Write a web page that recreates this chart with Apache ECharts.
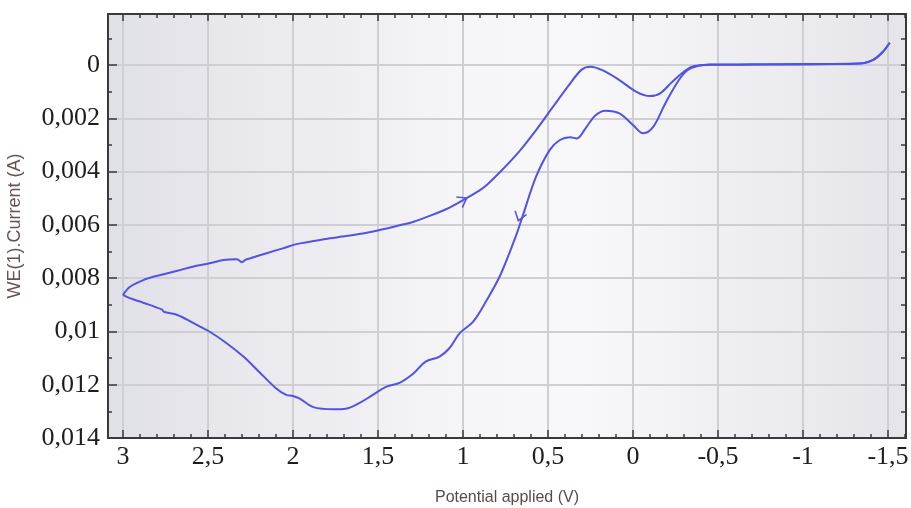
<!DOCTYPE html>
<html>
<head>
<meta charset="utf-8">
<script src="https://cdn.jsdelivr.net/npm/echarts@6/dist/echarts.min.js"></script>
<style>
html,body{margin:0;padding:0;background:#fff;}
#chart{width:911px;height:508px;}
</style>
</head>
<body>
<div id="chart"></div>
<script>
// Scan 1 (potential rising, lower branch), from -1.5 V to 3 V
const scan1Potential = [-1.51,-1.47,-1.41,-1.33,-1.0,-0.7,-0.45,-0.38,-0.32,-0.27,-0.19,-0.12,-0.06,0.0,0.08,0.16,0.22,0.28,0.33,0.37,0.43,0.49,0.57,0.65,0.69,0.78,0.86,0.94,1.02,1.08,1.14,1.22,1.29,1.37,1.45,1.53,1.61,1.69,1.76,1.88,1.96,2.0,2.04,2.10,2.20,2.29,2.39,2.49,2.59,2.68,2.76,2.77,2.88,2.96,3.0];
const scan1Current = [-0.00084,-0.0005,-0.00019,-0.00006,-0.00004,-0.00003,-0.00002,0.00003,0.00019,0.00056,0.00144,0.00231,0.00256,0.00225,0.00181,0.00171,0.00188,0.00238,0.00275,0.00271,0.00281,0.00319,0.00419,0.00569,0.00644,0.00788,0.00882,0.00963,0.01007,0.01063,0.01095,0.01113,0.01157,0.01192,0.01207,0.01238,0.01269,0.0129,0.01292,0.01284,0.01252,0.01242,0.01238,0.01213,0.01151,0.01095,0.01044,0.01001,0.00967,0.00938,0.00926,0.00918,0.00892,0.00875,0.00863];
// Scan 2 (potential falling, upper branch), from 3 V back to -1.5 V
const scan2Potential = [3.0,2.96,2.88,2.78,2.68,2.59,2.49,2.41,2.33,2.30,2.28,2.25,2.16,2.06,1.98,1.90,1.78,1.59,1.49,1.39,1.29,1.20,1.10,1.0,0.90,0.86,0.77,0.67,0.57,0.47,0.37,0.30,0.25,0.18,0.08,-0.02,-0.10,-0.16,-0.23,-0.31,-0.36,-0.45,-0.8,-1.2,-1.35,-1.42,-1.47,-1.51];
const scan2Current = [0.00863,0.00833,0.00807,0.00788,0.00772,0.00757,0.00744,0.00732,0.00729,0.0074,0.00731,0.00725,0.00707,0.00688,0.00672,0.00663,0.0065,0.00632,0.00619,0.00604,0.00588,0.00567,0.00541,0.00507,0.00469,0.0045,0.00394,0.00325,0.00244,0.00156,0.00069,0.00016,0.00006,0.00019,0.00056,0.001,0.00116,0.00106,0.00063,0.00019,0.00003,-0.00001,-0.00002,-0.00004,-0.00007,-0.00022,-0.0005,-0.00084];
// Direction arrows on the curve
const arrowPotential = [1.0, 0.667];
const arrowCurrent = [0.00507, 0.00569];
const arrowRotate = [30, -108];

const xTickLabels = [3, 2.5, 2, 1.5, 1, 0.5, 0, -0.5, -1, -1.5];
const yTickLabels = [0, 0.002, 0.004, 0.006, 0.008, 0.01, 0.012, 0.014];
const xMin = -1.606, xMax = 3.088;
const yMin = -0.00192, yMax = 0.014;

const xMinor = [];
for (let i = -16; i <= 30; i++) xMinor.push(i / 10);
const yMinor = [];
for (let i = -1; i <= 14; i++) yMinor.push(i / 1000);

const fmt = v => String(+v.toFixed(6)).replace('.', ',');
const lineColor = '#5252e4';
const axisColor = '#3a3a3a';
const serif = '"Liberation Serif", "Times New Roman", serif';

function pairs(xs, ys) { return xs.map((x, i) => [x, ys[i]]); }

const chart = echarts.init(document.getElementById('chart'));
const baseX = { type: 'value', min: xMin, max: xMax, inverse: true, gridIndex: 0 };
const baseY = { type: 'value', min: yMin, max: yMax, inverse: true, gridIndex: 0 };

chart.setOption({
  animation: false,
  backgroundColor: '#ffffff',
  grid: {
    left: 108, right: 5, top: 14, bottom: 70,
    containLabel: false, outerBoundsMode: 'none',
    show: true, borderWidth: 0,
    backgroundColor: {
      type: 'linear', x: 0, y: 0, x2: 1, y2: 0,
      colorStops: [
        { offset: 0, color: '#e0e0e7' },
        { offset: 0.45, color: '#f6f6f8' },
        { offset: 0.6, color: '#f8f8fa' },
        { offset: 1, color: '#e4e4ea' }
      ]
    }
  },
  xAxis: [
    Object.assign({}, baseX, {
      position: 'bottom',
      name: 'Potential applied (V)', nameLocation: 'middle', nameGap: 52,
      nameTextStyle: { fontFamily: '"Liberation Sans", Arial, sans-serif', fontSize: 16, color: '#5c4a4a' },
      axisLine: { show: true, onZero: false, lineStyle: { color: axisColor, width: 2 } },
      axisTick: { show: true, inside: true, length: 8, customValues: xTickLabels, lineStyle: { color: axisColor, width: 1.5 } },
      axisLabel: { show: true, customValues: xTickLabels, margin: 6, formatter: fmt, fontFamily: serif, fontSize: 26, color: '#1e1e1e', hideOverlap: false },
      splitLine: { show: true, lineStyle: { color: '#cfcfd3', width: 2 } }
    }),
    Object.assign({}, baseX, {
      position: 'bottom',
      axisLine: { show: false, onZero: false },
      axisTick: { show: true, inside: true, length: 4, customValues: xMinor, lineStyle: { color: axisColor, width: 1.5 } },
      axisLabel: { show: false },
      splitLine: { show: false }
    }),
    Object.assign({}, baseX, {
      position: 'top',
      axisLine: { show: true, onZero: false, lineStyle: { color: axisColor, width: 2 } },
      axisTick: { show: true, inside: true, length: 7, customValues: xTickLabels, lineStyle: { color: axisColor, width: 1.5 } },
      axisLabel: { show: false },
      splitLine: { show: false }
    }),
    Object.assign({}, baseX, {
      position: 'top',
      axisLine: { show: false, onZero: false },
      axisTick: { show: true, inside: true, length: 4, customValues: xMinor, lineStyle: { color: axisColor, width: 1.5 } },
      axisLabel: { show: false },
      splitLine: { show: false }
    })
  ],
  yAxis: [
    Object.assign({}, baseY, {
      position: 'left',
      name: 'WE(1).Current (A)', nameLocation: 'middle', nameGap: 84, nameRotate: 90,
      nameTextStyle: { fontFamily: '"Liberation Sans", Arial, sans-serif', fontSize: 18, color: '#6a5050' },
      axisLine: { show: true, onZero: false, lineStyle: { color: axisColor, width: 2 } },
      axisTick: { show: true, inside: true, length: 9, customValues: yTickLabels, lineStyle: { color: axisColor, width: 1.5 } },
      axisLabel: { show: true, customValues: yTickLabels, margin: 8, formatter: fmt, fontFamily: serif, fontSize: 26, color: '#1e1e1e' },
      splitLine: { show: true, lineStyle: { color: '#cfcfd3', width: 2 } }
    }),
    Object.assign({}, baseY, {
      position: 'left',
      axisLine: { show: false, onZero: false },
      axisTick: { show: true, inside: true, length: 4, customValues: yMinor, lineStyle: { color: axisColor, width: 1.5 } },
      axisLabel: { show: false },
      splitLine: { show: false }
    }),
    Object.assign({}, baseY, {
      position: 'right',
      axisLine: { show: true, onZero: false, lineStyle: { color: axisColor, width: 2 } },
      axisTick: { show: true, inside: true, length: 5, customValues: yMinor, lineStyle: { color: axisColor, width: 1.5 } },
      axisLabel: { show: false },
      splitLine: { show: false }
    })
  ],
  series: [
    {
      name: 'Scan 1', type: 'line', xAxisIndex: 0, yAxisIndex: 0,
      data: pairs(scan1Potential, scan1Current),
      showSymbol: false, smooth: 0.35,
      lineStyle: { color: lineColor, width: 2 },
      markPoint: {
        symbol: 'path://M0,0L10,6L0,12', symbolSize: [10, 12], symbolKeepAspect: true,
        itemStyle: { color: 'rgba(0,0,0,0)', borderColor: lineColor, borderWidth: 1.5 },
        label: { show: false },
        data: [{ coord: [arrowPotential[1], arrowCurrent[1]], symbolRotate: arrowRotate[1] }]
      }
    },
    {
      name: 'Scan 2', type: 'line', xAxisIndex: 0, yAxisIndex: 0,
      data: pairs(scan2Potential, scan2Current),
      showSymbol: false, smooth: 0.35,
      lineStyle: { color: lineColor, width: 2 },
      markPoint: {
        symbol: 'path://M0,0L10,6L0,12', symbolSize: [10, 12], symbolKeepAspect: true,
        itemStyle: { color: 'rgba(0,0,0,0)', borderColor: lineColor, borderWidth: 1.5 },
        label: { show: false },
        data: [{ coord: [arrowPotential[0], arrowCurrent[0]], symbolRotate: arrowRotate[0] }]
      }
    }
  ]
});
</script>
</body>
</html>
